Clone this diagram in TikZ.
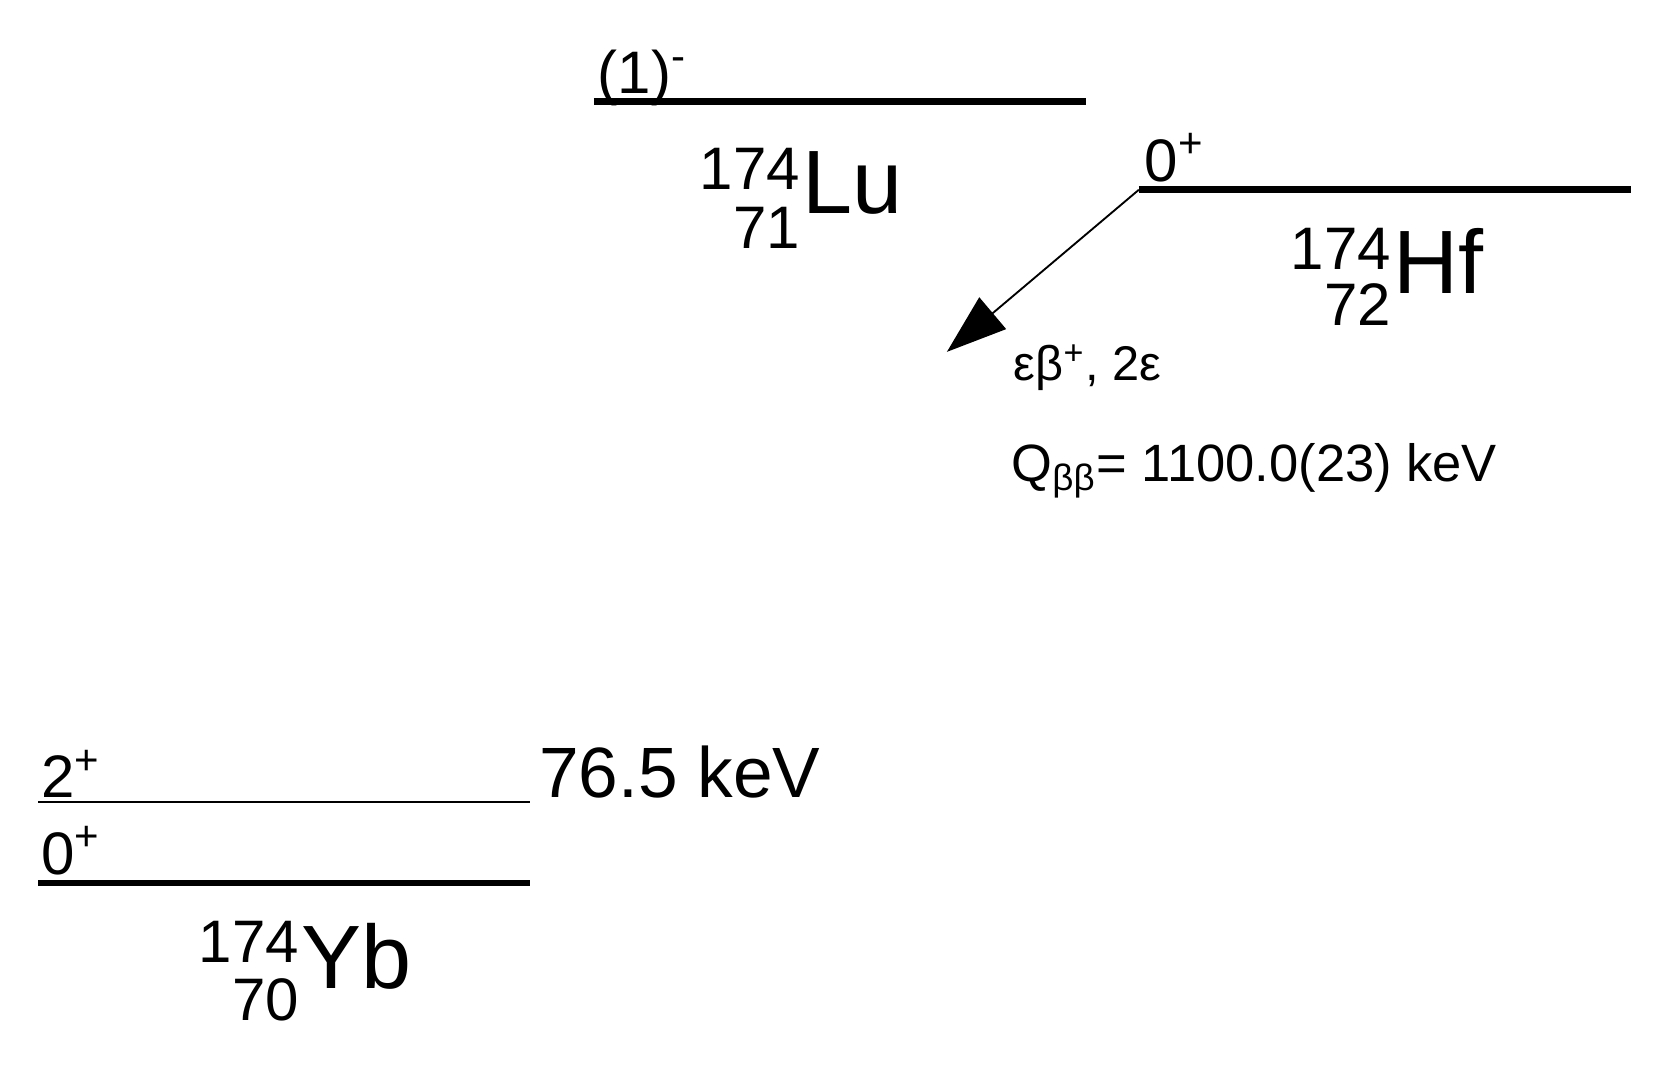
\documentclass[tikz,border=0pt]{standalone}
\usepackage{fontspec}
\setmainfont{Liberation Sans}
\usetikzlibrary{arrows.meta}
\begin{document}
\begin{tikzpicture}[x=0.01cm,y=-0.01cm,
  lev/.style={line width=1.8pt},
  thinlev/.style={line width=0.5pt},
  spin/.style={font=\fontsize{16}{16}\selectfont,anchor=base west,inner sep=0},
  mass/.style={font=\fontsize{16}{16}\selectfont,anchor=base east,inner sep=0},
  sym/.style={font=\fontsize{24}{24}\selectfont,anchor=base west,inner sep=0},
  small/.style={font=\fontsize{13}{13}\selectfont,anchor=base west,inner sep=0}]
\useasboundingbox (0,0) rectangle (1568,1007);
% Lu
\coordinate (lu1) at (557,95); \coordinate (lu2) at (1018,95);
\draw[lev] (lu1) -- (lu2);
\node[spin] (lus) at (560,88) {(1)\textsuperscript{-}};
\node[sym] (lu) at (752,200) {Lu};
\node[mass] (lua) at (751,178) {174};
\node[mass] (luz) at (751,233) {71};
% Hf
\coordinate (hf1) at (1068,178); \coordinate (hf2) at (1530,178);
\draw[lev] (hf1) -- (hf2);
\node[spin] (hfs) at (1073,170) {0\textsuperscript{+}};
\node[sym] (hf) at (1306,275) {Hf};
\node[mass] (hfa) at (1305,253) {174};
\node[mass] (hfz) at (1305,305) {72};
\coordinate (arr) at (888,330);
\draw[line width=0.5pt,-{Triangle[length=16pt,width=11pt]}] (hf1) -- (arr);
\node[small] (dec) at (950,357) {εβ\textsuperscript{+}, 2ε};
\node[small,font=\fontsize{14}{14}\selectfont] (q) at (948,452) {Q\textsubscript{ββ}= 1100.0(23) keV};
% Yb
\coordinate (y21) at (36,752); \coordinate (y22) at (497,752);
\draw[thinlev] (y21) -- (y22);
\node[spin] (y2s) at (38,748) {2\textsuperscript{+}};
\node[spin,font=\fontsize{19}{19}\selectfont] (y2e) at (505,748) {76.5 keV};
\coordinate (y01) at (36,828); \coordinate (y02) at (497,828);
\draw[lev] (y01) -- (y02);
\node[spin] (y0s) at (38,820) {0\textsuperscript{+}};
\node[sym] (yb) at (282,927) {Yb};
\node[mass] (yba) at (281,903) {174};
\node[mass] (ybz) at (281,957) {70};
\end{tikzpicture}
\end{document}
